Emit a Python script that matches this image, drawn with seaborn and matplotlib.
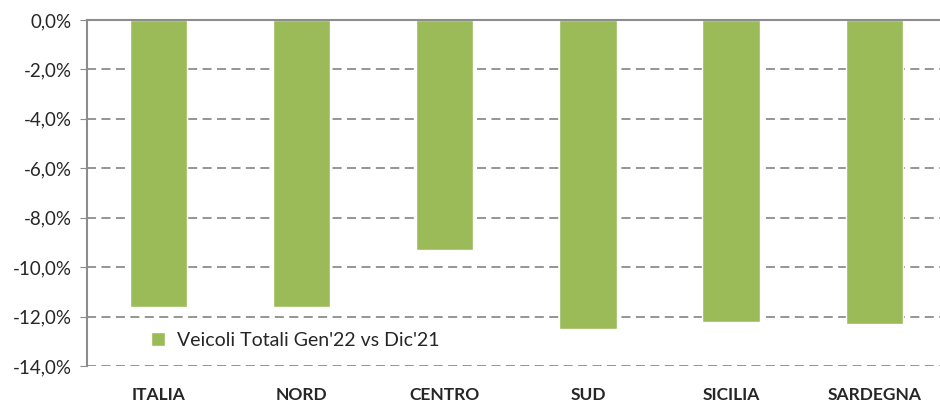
import matplotlib
matplotlib.use("Agg")
import matplotlib.pyplot as plt
import seaborn as sns
import pandas as pd
from matplotlib.ticker import FuncFormatter

# dati
regioni = ["ITALIA", "NORD", "CENTRO", "SUD", "SICILIA", "SARDEGNA"]
variazione = [-11.6, -11.6, -9.3, -12.5, -12.2, -12.3]
serie = "Veicoli Totali Gen'22 vs Dic'21"

df = pd.DataFrame({"regione": regioni, "var": variazione, "serie": serie})

sns.set_style("white")
plt.rcParams["font.family"] = ["Lato", "DejaVu Sans"]

fig = plt.figure(figsize=(9.4, 4.01), dpi=100)
ax = fig.add_axes([87 / 940, 35 / 401, 853 / 940, 346 / 401])

sns.barplot(data=df, x="regione", y="var", hue="serie", palette=["#9BBB59"],
            width=0.4, ax=ax, saturation=1)

ax.set_ylim(-14, 0)
ax.set_xlim(-0.5, 5.46)
ax.set_yticks(range(-14, 1, 2))
ax.yaxis.set_major_formatter(FuncFormatter(lambda v, p: f"{v:.1f}%".replace(".", ",")))
ax.tick_params(axis="y", labelsize=13.5, length=5, color="#8c8c8c", left=True, pad=6)
ax.tick_params(axis="x", labelsize=12.5, length=0, pad=15)
for lab in ax.get_xticklabels():
    lab.set_fontweight("bold")

ax.grid(axis="y", linestyle=(0, (5, 3)), color="#8c8c8c", linewidth=1.3)
ax.set_axisbelow(True)
for s in ["right", "bottom"]:
    ax.spines[s].set_visible(False)
ax.spines["left"].set_color("#8c8c8c")
ax.spines["left"].set_linewidth(1.5)
ax.spines["top"].set_color("#8c8c8c")
ax.spines["top"].set_linewidth(1.5)

ax.set_xlabel("")
ax.set_ylabel("")

leg = ax.legend(loc="lower left", bbox_to_anchor=(0.055, 0.0), frameon=False,
                fontsize=14, handlelength=0.7, handleheight=0.7, handletextpad=0.6)

plt.savefig("out.png", dpi=100)
